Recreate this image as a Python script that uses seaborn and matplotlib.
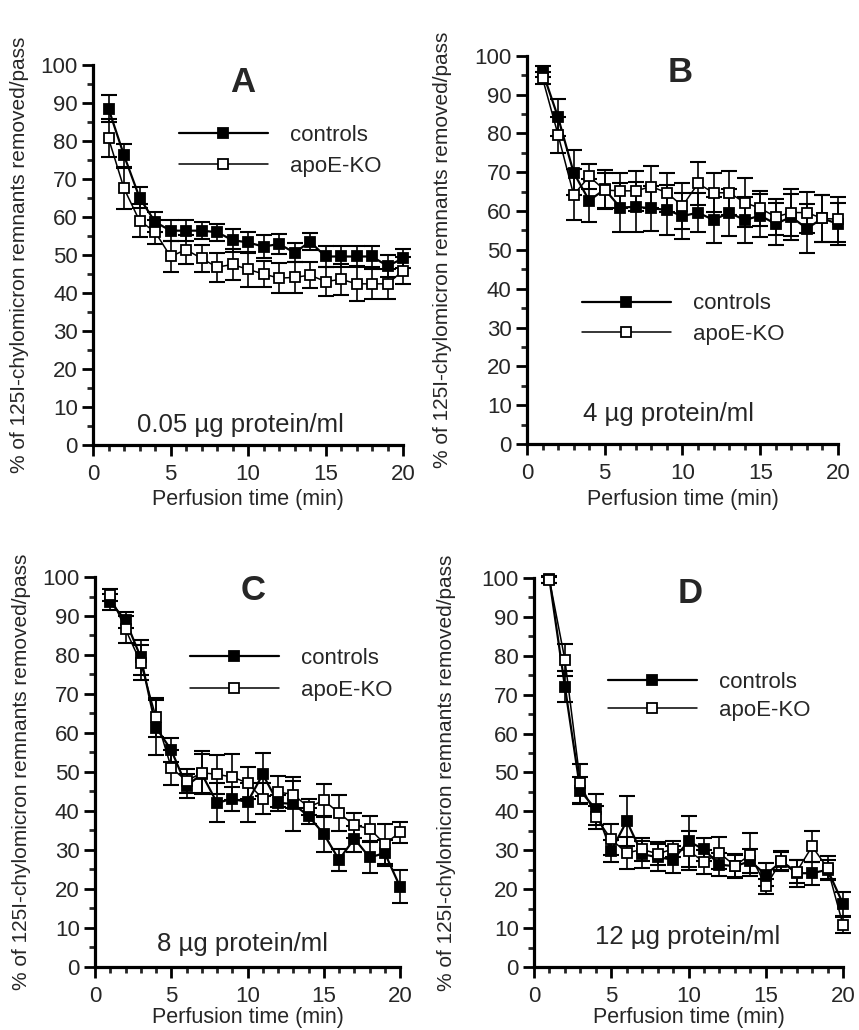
import matplotlib
matplotlib.use("Agg")
import pandas as pd
import matplotlib.pyplot as plt
import seaborn as sns
from matplotlib.ticker import MultipleLocator

time_min = list(range(1, 21))

# Panel A: 0.05 ug protein/ml
a_ctrl = [88.5, 76.2, 65.1, 58.7, 56.4, 56.4, 56.4, 56.0, 53.9, 53.3,
          52.2, 52.9, 50.6, 53.5, 49.6, 49.6, 49.6, 49.6, 47.1, 49.1]
a_ctrl_err = [3.5, 3.0, 2.7, 2.6, 2.8, 2.8, 2.2, 2.2, 3.0, 2.8,
              3.0, 2.6, 2.5, 2.2, 2.8, 2.8, 2.8, 2.8, 3.0, 2.5]
a_ko = [80.7, 67.5, 59.0, 56.1, 49.6, 51.4, 49.1, 46.8, 47.5, 46.2,
        45.0, 43.9, 44.1, 44.7, 43.0, 43.6, 42.4, 42.4, 42.4, 45.9]
a_ko_err = [5.0, 5.5, 4.4, 3.2, 4.1, 3.8, 3.6, 3.8, 4.0, 4.5,
            3.5, 3.9, 4.0, 3.5, 3.8, 4.1, 4.6, 4.0, 4.0, 3.5]

# Panel B: 4 ug protein/ml
b_ctrl = [95.9, 84.1, 69.9, 62.7, 65.6, 60.9, 61.1, 60.7, 60.3, 58.7,
          59.6, 57.7, 59.6, 57.7, 58.8, 56.7, 58.5, 55.5, 58.1, 56.7]
b_ctrl_err = [1.5, 4.7, 5.8, 5.6, 5.0, 6.3, 6.4, 5.8, 6.5, 6.0,
              5.0, 6.0, 6.0, 6.0, 5.5, 5.5, 6.0, 6.4, 6.0, 5.5]
b_ko = [94.2, 79.6, 64.2, 68.9, 65.4, 65.2, 65.2, 66.3, 64.7, 61.3,
        67.1, 64.7, 64.7, 62.2, 60.7, 58.5, 59.6, 59.6, 58.1, 57.9]
b_ko_err = [1.5, 4.6, 6.5, 3.2, 4.5, 4.5, 5.2, 5.4, 5.0, 6.0,
            5.6, 5.0, 5.7, 6.4, 4.5, 4.7, 6.0, 5.2, 6.0, 5.8]

# Panel C: 8 ug protein/ml
c_ctrl = [93.6, 88.9, 79.4, 61.4, 55.6, 46.4, 49.5, 42.1, 43.1, 42.3,
          49.4, 42.1, 41.8, 38.7, 34.1, 27.5, 32.9, 28.1, 29.2, 20.6]
c_ctrl_err = [2.0, 2.0, 4.5, 7.0, 3.0, 3.0, 5.0, 5.0, 3.0, 5.0,
              5.5, 2.0, 7.0, 2.0, 4.5, 2.8, 3.3, 4.0, 3.4, 4.3]
c_ko = [95.3, 86.6, 78.0, 64.0, 51.1, 47.7, 49.8, 49.4, 48.7, 47.2,
        43.1, 44.9, 44.2, 41.0, 42.7, 39.5, 36.3, 35.5, 31.5, 34.6]
c_ko_err = [1.5, 3.5, 4.5, 5.0, 4.5, 3.0, 5.5, 5.0, 6.0, 4.0,
            4.0, 4.0, 3.5, 2.0, 4.3, 4.6, 3.3, 3.2, 5.2, 2.7]

# Panel D: 12 ug protein/ml
d_ctrl = [99.6, 72.0, 45.3, 40.5, 29.9, 37.5, 29.0, 28.2, 27.6, 32.3,
          30.2, 26.3, 25.9, 27.2, 23.7, 27.1, 24.1, 24.1, 25.0, 16.2]
d_ctrl_err = [0.8, 4.0, 3.5, 4.0, 2.8, 6.5, 3.5, 3.5, 3.5, 6.5,
              3.0, 3.0, 3.0, 3.0, 3.0, 2.5, 3.5, 3.0, 2.5, 3.0]
d_ko = [99.5, 78.9, 47.2, 38.5, 32.8, 29.3, 30.2, 29.1, 30.3, 29.9,
        27.0, 29.3, 26.0, 28.9, 20.7, 27.3, 24.5, 31.0, 25.4, 10.8]
d_ko_err = [0.8, 4.0, 5.0, 3.0, 4.0, 4.0, 3.0, 3.0, 2.0, 5.0,
            3.0, 4.0, 3.0, 5.5, 2.0, 2.5, 3.0, 4.0, 3.0, 2.0]

groups = ["controls", "apoE-KO"]
y_label = "% of 125I-chylomicron remnants removed/pass"
x_label = "Perfusion time (min)"


def make_frame(ctrl, ctrl_err, ko, ko_err):
    n = len(time_min)
    return pd.DataFrame({
        "time": time_min * 2,
        "value": ctrl + ko,
        "err": ctrl_err + ko_err,
        "group": [groups[0]] * n + [groups[1]] * n,
    })


# position: [left, bottom, width, height] in figure fraction
panels = [
    dict(df=make_frame(a_ctrl, a_ctrl_err, a_ko, a_ko_err), letter="A",
         note="0.05 µg protein/ml", pos=[0.1083, 0.5680, 0.3609, 0.3689],
         letter_xy=(0.484, 0.929), note_xy=(0.142, 0.035),
         leg_xy=(0.277, 0.774), leg_sp=0.45, ylab_x=-0.206, xlab_y=-0.115),
    dict(df=make_frame(b_ctrl, b_ctrl_err, b_ko, b_ko_err), letter="B",
         note="4 µg protein/ml", pos=[0.6135, 0.5689, 0.3620, 0.3770],
         letter_xy=(0.492, 0.933), note_xy=(0.180, 0.060),
         leg_xy=(0.177, 0.322), leg_sp=0.42, ylab_x=-0.241, xlab_y=-0.115),
    dict(df=make_frame(c_ctrl, c_ctrl_err, c_ko, c_ko_err), letter="C",
         note="8 µg protein/ml", pos=[0.1106, 0.0612, 0.3551, 0.3786],
         letter_xy=(0.518, 0.941), note_xy=(0.203, 0.042),
         leg_xy=(0.311, 0.750), leg_sp=0.52, ylab_x=-0.21, xlab_y=-0.103),
    dict(df=make_frame(d_ctrl, d_ctrl_err, d_ko, d_ko_err), letter="D",
         note="12 µg protein/ml", pos=[0.6217, 0.0612, 0.3597, 0.3777],
         letter_xy=(0.505, 0.936), note_xy=(0.197, 0.059),
         leg_xy=(0.239, 0.695), leg_sp=0.32, ylab_x=-0.252, xlab_y=-0.103),
]

sns.set_style("ticks")
plt.rcParams["font.family"] = ["Liberation Sans", "DejaVu Sans"]

fig = plt.figure(figsize=(8.59, 10.30), dpi=100)

for p in panels:
    ax = fig.add_axes(p["pos"])
    df = p["df"]
    styles = {"controls": ("black", 1.6, 3), "apoE-KO": ("white", 1.1, 5)}
    for g in groups:
        face, lw, z = styles[g]
        sub = df[df["group"] == g]
        ax.errorbar(sub["time"], sub["value"], yerr=sub["err"], fmt="none",
                    ecolor="black", elinewidth=1.2, capsize=6, capthick=1.5,
                    zorder=z - 1, clip_on=False)
        sns.lineplot(data=sub, x="time", y="value", ax=ax, errorbar=None,
                     color="black", lw=lw, marker="s", markersize=6.5,
                     markerfacecolor=face, markeredgecolor="black",
                     markeredgewidth=1.3, label=g, zorder=z, clip_on=False)

    ax.set_xlim(0, 20)
    ax.set_ylim(0, 100)
    ax.xaxis.set_major_locator(MultipleLocator(5))
    ax.xaxis.set_minor_locator(MultipleLocator(1))
    ax.yaxis.set_major_locator(MultipleLocator(10))
    ax.yaxis.set_minor_locator(MultipleLocator(5))
    ax.tick_params(which="major", length=8, width=2, labelsize=16,
                   direction="out", color="black")
    ax.tick_params(axis="x", which="major", pad=6)
    ax.tick_params(axis="y", which="major", pad=3)
    ax.tick_params(which="minor", length=4.5, width=2, direction="out")
    sns.despine(ax=ax)
    for side in ["left", "bottom"]:
        ax.spines[side].set_linewidth(2.3)
        ax.spines[side].set_color("black")

    ax.set_xlabel(x_label, fontsize=15.5)
    ax.xaxis.set_label_coords(0.5, p["xlab_y"])
    ax.set_ylabel(y_label, fontsize=15)
    ax.yaxis.set_label_coords(p["ylab_x"], 0.5)

    ax.text(*p["letter_xy"], p["letter"], transform=ax.transAxes,
            ha="center", va="baseline", fontsize=25, fontweight="bold")
    ax.text(*p["note_xy"], p["note"], transform=ax.transAxes,
            ha="left", va="baseline", fontsize=18.5)

    ax.legend(loc="center left", bbox_to_anchor=p["leg_xy"], frameon=False,
              fontsize=16, handlelength=4.0, handletextpad=1.0,
              labelspacing=p["leg_sp"], borderpad=0, borderaxespad=0,
              numpoints=1)

fig.savefig("out.png", dpi=100)
